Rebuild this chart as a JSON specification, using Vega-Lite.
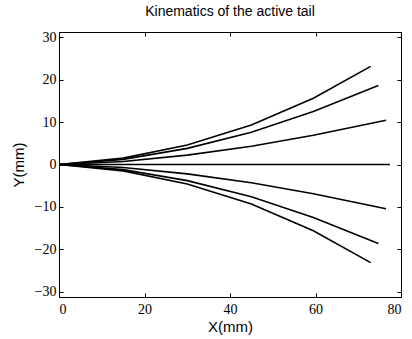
{
  "$schema": "https://vega.github.io/schema/vega-lite/v6.json",
  "width": 342,
  "height": 265,
  "autosize": {"type": "none"},
  "padding": {"left": 59, "top": 32, "right": 11, "bottom": 42},
  "background": "white",
  "title": {"text": "Kinematics of the active tail", "font": "Liberation Sans", "fontSize": 14, "fontWeight": "normal", "color": "#000", "offset": 11, "anchor": "middle"},
  "config": {
    "view": {"stroke": "#000", "strokeWidth": 1},
    "axis": {"domainColor": "#000", "tickColor": "#000", "labelColor": "#000", "titleColor": "#000", "grid": false, "titleFont": "Liberation Sans", "titleFontSize": 15, "titleFontWeight": "normal", "tickSize": -4, "labelPadding": 7}
  },
  "data": {"values": [
    {"s": "a", "x": 0, "y": 0}, {"s": "a", "x": 15, "y": 1.5}, {"s": "a", "x": 30, "y": 4.6}, {"s": "a", "x": 45, "y": 9.3}, {"s": "a", "x": 59.5, "y": 15.6}, {"s": "a", "x": 72.9, "y": 23.1},
    {"s": "b", "x": 0, "y": 0}, {"s": "b", "x": 15, "y": 1.2}, {"s": "b", "x": 30, "y": 3.8}, {"s": "b", "x": 45, "y": 7.6}, {"s": "b", "x": 59.5, "y": 12.5}, {"s": "b", "x": 74.7, "y": 18.6},
    {"s": "c", "x": 0, "y": 0}, {"s": "c", "x": 15, "y": 0.7}, {"s": "c", "x": 30, "y": 2.2}, {"s": "c", "x": 45, "y": 4.3}, {"s": "c", "x": 59.5, "y": 6.9}, {"s": "c", "x": 76.5, "y": 10.4},
    {"s": "d", "x": 0, "y": 0}, {"s": "d", "x": 77.4, "y": 0},
    {"s": "e", "x": 0, "y": 0}, {"s": "e", "x": 15, "y": -0.7}, {"s": "e", "x": 30, "y": -2.2}, {"s": "e", "x": 45, "y": -4.3}, {"s": "e", "x": 59.5, "y": -6.9}, {"s": "e", "x": 76.5, "y": -10.4},
    {"s": "f", "x": 0, "y": 0}, {"s": "f", "x": 15, "y": -1.2}, {"s": "f", "x": 30, "y": -3.8}, {"s": "f", "x": 45, "y": -7.6}, {"s": "f", "x": 59.5, "y": -12.5}, {"s": "f", "x": 74.7, "y": -18.6},
    {"s": "g", "x": 0, "y": 0}, {"s": "g", "x": 15, "y": -1.5}, {"s": "g", "x": 30, "y": -4.6}, {"s": "g", "x": 45, "y": -9.3}, {"s": "g", "x": 59.5, "y": -15.6}, {"s": "g", "x": 72.9, "y": -23.1}
  ]},
  "layer": [
    {
      "mark": {"type": "line", "color": "#000", "strokeWidth": 1.6},
      "encoding": {
        "x": {"field": "x", "type": "quantitative", "scale": {"domain": [0, 80], "nice": false, "zero": false}, "axis": {"title": "X(mm)", "values": [0, 20, 40, 60, 80], "titlePadding": 3, "labelPadding": 9, "labelFont": "serif", "labelFontSize": 14}},
        "y": {"field": "y", "type": "quantitative", "scale": {"domain": [-31.2, 31.2], "nice": false, "zero": false}, "axis": {"title": "Y(mm)", "values": [-30, -20, -10, 0, 10, 20, 30], "titlePadding": 8, "labelFont": "serif", "labelFontSize": 14}},
        "detail": {"field": "s", "type": "nominal"}
      }
    },
    {
      "mark": {"type": "line", "color": "#000", "strokeWidth": 0, "opacity": 0},
      "encoding": {
        "x": {"field": "x", "type": "quantitative", "axis": {"orient": "top", "title": null, "labels": false, "values": [0, 20, 40, 60, 80]}},
        "y": {"field": "y", "type": "quantitative", "axis": {"orient": "right", "title": null, "labels": false, "values": [-30, -20, -10, 0, 10, 20, 30]}},
        "detail": {"field": "s", "type": "nominal"}
      }
    }
  ],
  "resolve": {"axis": {"x": "independent", "y": "independent"}}
}
